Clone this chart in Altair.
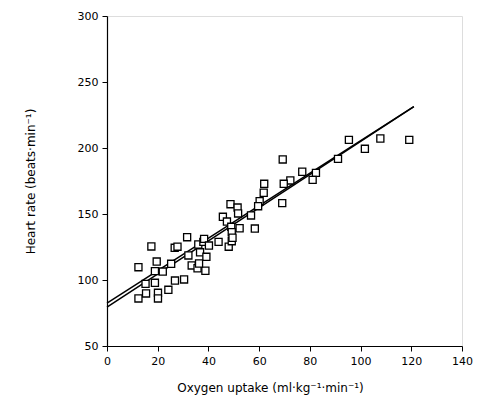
import altair as alt
import pandas as pd

# Scatter data: oxygen uptake (ml/kg/min) vs heart rate (beats/min)
vo2 = [12.4, 17.5, 31.6, 26.7, 27.8, 19.6, 18.9, 22.0, 25.3, 15.2,
       18.9, 15.4, 12.4, 20.1, 20.1, 24.2, 26.8, 30.4, 32.1, 33.4,
       35.7, 38.8, 36.0, 36.7, 38.0, 69.3, 77.0, 72.3, 69.7, 62.0,
       61.8, 60.2, 59.6, 69.1, 48.7, 51.5, 51.7, 45.7, 47.3, 56.8,
       49.0, 52.3, 49.2, 58.3, 38.3, 44.0, 40.2, 48.0, 49.2, 39.2,
       36.3, 95.4, 107.8, 119.2, 101.7, 91.1, 82.4, 81.1, 49.5]
hr = [109.7, 125.4, 132.4, 124.4, 125.2, 114.0, 106.7, 106.4, 112.3, 97.1,
      97.9, 89.8, 86.0, 90.3, 86.0, 92.6, 99.6, 100.4, 118.6, 111.0,
      108.9, 107.0, 126.9, 121.0, 128.9, 191.3, 182.0, 175.4, 172.9, 172.9,
      166.1, 159.7, 155.9, 158.2, 157.4, 154.9, 150.4, 147.9, 144.3, 148.9,
      140.3, 139.2, 136.2, 139.0, 131.2, 128.9, 126.1, 125.2, 129.4, 117.6,
      112.5, 206.2, 207.2, 206.2, 199.4, 191.8, 181.2, 175.9, 132.0]

# Two regression lines (start and end points)
line_ids = ["A", "A", "B", "B"]
line_x = [0, 121, 0, 121]
line_y = [82.5, 231.3, 79.5, 231.4]

x_ticks = [0, 10, 20, 30, 40, 50, 60, 70, 80, 90, 100, 110, 120, 130, 140]
y_ticks = [50, 75, 100, 125, 150, 175, 200, 225, 250, 275, 300]

pts = pd.DataFrame({"x": vo2, "y": hr})
lines = pd.DataFrame({"x": line_x, "y": line_y, "id": line_ids})

FONT = "DejaVu Sans"

x_scale = alt.Scale(domain=[0, 140], nice=False, zero=False)
y_scale = alt.Scale(domain=[50, 300], nice=False, zero=False)

x_axis = alt.Axis(
    values=x_ticks,
    labelExpr="datum.value % 20 === 0 ? datum.label : ''",
    title="Oxygen uptake (ml·kg⁻¹·min⁻¹)",
    grid=False,
    domainColor="black",
    domainWidth=1.2,
    tickColor="black",
    tickSize={"condition": {"test": "datum.value % 20 === 0", "value": 5}, "value": 3},
    labelFont=FONT,
    labelFontSize=11,
    labelColor="black",
    labelPadding=4,
    titleFont=FONT,
    titleFontSize=12,
    titleFontWeight="normal",
    titleColor="black",
    titlePadding=16,
    titleX=163,
    titleAlign="center",
    labelFlush=False,
)
y_axis = alt.Axis(
    values=y_ticks,
    labelExpr="datum.value % 50 === 0 ? datum.label : ''",
    title="Heart rate (beats·min⁻¹)",
    grid=False,
    domainColor="black",
    domainWidth=1.2,
    tickColor="black",
    tickSize={"condition": {"test": "datum.value % 50 === 0", "value": 5}, "value": 3},
    labelFont=FONT,
    labelFontSize=11,
    labelColor="black",
    labelPadding=4,
    titleFont=FONT,
    titleFontSize=12,
    titleFontWeight="normal",
    titleColor="black",
    titlePadding=40,
    labelFlush=False,
)

line_layer = alt.Chart(lines).mark_line(color="black", strokeWidth=1.5).encode(
    x=alt.X("x:Q", scale=x_scale, axis=x_axis),
    y=alt.Y("y:Q", scale=y_scale, axis=y_axis),
    detail="id:N",
)

point_layer = alt.Chart(pts).mark_point(
    shape="square", size=50, fill="white", stroke="black",
    strokeWidth=1.3, opacity=1, fillOpacity=1,
).encode(
    x=alt.X("x:Q", scale=x_scale),
    y=alt.Y("y:Q", scale=y_scale),
)

chart = alt.layer(line_layer, point_layer).properties(
    width=355,
    height=330,
    autosize=alt.AutoSizeParams(type="none"),
    padding={"left": 99, "top": 8, "right": 14, "bottom": 53},
).configure_view(stroke=None).configure(background="white")

chart.save("out.html", embed_options={"renderer": "svg", "actions": False})
